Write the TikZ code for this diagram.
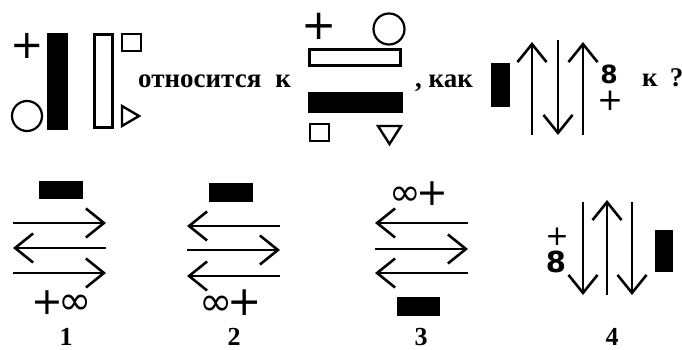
\documentclass[tikz,border=0pt]{standalone}
\usepackage{fontspec}
\setmainfont{Liberation Serif}
\newfontfamily\symf{DejaVu Sans}
\usetikzlibrary{arrows.meta}
\newcommand{\fs}[1]{\fontsize{#1}{#1}\selectfont}
\begin{document}
\begin{tikzpicture}[x=1pt,y=-1pt,
  outl/.style={draw=black,line width=3pt,fill=white},
  thinout/.style={draw=black,line width=2.4pt,line join=miter},
  ring/.style={draw=black,line width=2.2pt},
  arr/.style={line width=2.6pt,-{Straight Barb[length=18pt,width=29pt]}},
  word/.style={font=\fs{27}\bfseries,inner sep=0pt,anchor=base west},
  sym/.style={font=\symf\fs{#1},inner sep=0pt},
  eight/.style={font=\symf\bfseries\fs{#1},inner sep=0pt},
  num/.style={font=\fs{26}\bfseries,inner sep=0pt,anchor=base},
]
\useasboundingbox[fill=white] (0,0) rectangle (682,350);

% ---- top left ----
\node[sym=40] (p1) at (27,46) {+};
\draw[ring] (27,116) circle (15);
\fill (47,33) rectangle (68,130);
\draw[outl] (94.5,34.5) rectangle (112.5,127.5);
\draw[thinout] (122,34) rectangle (141,51);
\draw[thinout] (122,106) -- (139,116) -- (122,126) -- cycle;
\node[word] (t1) at (138,88) {относится\hspace{14pt}к};

% ---- top middle ----
\node[sym=42] (p2) at (319,26) {+};
\draw[ring] (389,29) circle (15.5);
\draw[outl] (309.5,49.5) rectangle (400.5,66);
\fill (308,92) rectangle (403,113);
\draw[thinout] (310,124) rectangle (329,141);
\draw[thinout] (378,126) -- (401,126) -- (389.5,144) -- cycle;
\node[word] (t2) at (415,88) {, как};

% ---- top right ----
\fill (491,63) rectangle (510,107);
\draw[arr] (532,135) -- (532,42);
\draw[arr] (558,40) -- (558,135);
\draw[arr] (583,135) -- (583,42);
\node[eight=25] (e0) at (609,74) {8};
\node[sym=31] (p3) at (610,101) {+};
\node[word] (t3) at (642,87) {к\hspace{12pt}?};

% ---- option 1 ----
\fill (39,181) rectangle (83,199);
\draw[arr] (13,223) -- (106,223);
\draw[arr] (106,248) -- (13,248);
\draw[arr] (13,273) -- (106,273);
\node[sym=38] (s1) at (62,303) {+\kern-5pt{\fs{40}∞}};
\node[num] (n1) at (66,345) {1};

% ---- option 2 ----
\fill (209,183) rectangle (253,202);
\draw[arr] (280,226) -- (187,226);
\draw[arr] (187,250) -- (280,250);
\draw[arr] (280,276) -- (187,276);
\node[sym=40] (s2) at (231,303) {∞\kern-5pt{\fs{41}+}};
\node[num] (n2) at (234,345) {2};

% ---- option 3 ----
\node[sym=38] (s3) at (419,194) {∞\kern-5pt+};
\draw[arr] (468,223) -- (375,223);
\draw[arr] (375,249) -- (468,249);
\draw[arr] (468,273) -- (375,273);
\fill (397,297) rectangle (440,316);
\node[num] (n3) at (421,345) {3};

% ---- option 4 ----
\node[sym=28] (p7) at (557,237) {+};
\node[eight=29] (e4) at (556,262) {8};
\draw[arr] (583,202) -- (583,295);
\draw[arr] (607,295) -- (607,200);
\draw[arr] (632,202) -- (632,295);
\fill (655,230) rectangle (673,272);
\node[num] (n4) at (612,345) {4};
\end{tikzpicture}
\end{document}
